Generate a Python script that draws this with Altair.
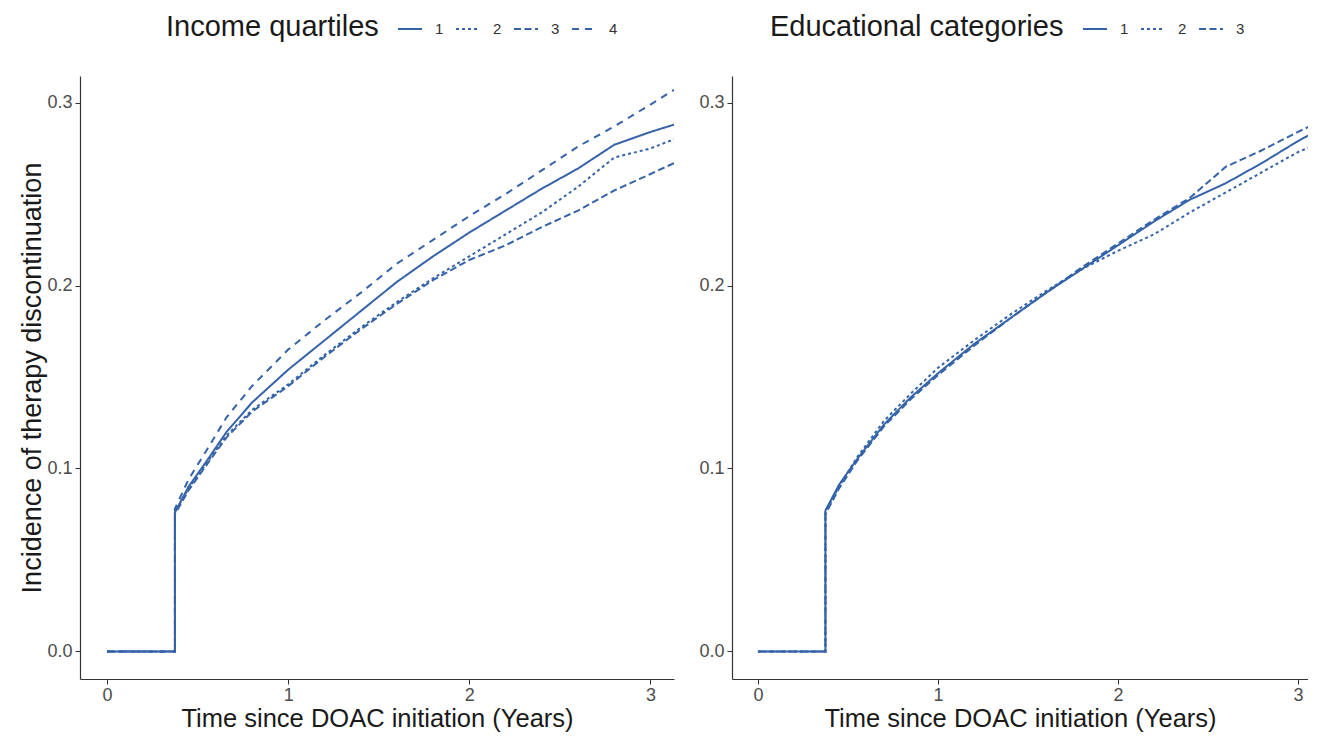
import altair as alt
import pandas as pd

# ---- data ----
step_x = 0.375
left_x = [0.375, 0.45, 0.55, 0.66, 0.8, 1.0, 1.2, 1.4, 1.6, 1.8, 2.0, 2.2, 2.4, 2.6, 2.8, 3.0, 3.13]
income_1 = [0.076, 0.090, 0.104, 0.120, 0.136, 0.154, 0.170, 0.186, 0.202, 0.216, 0.229, 0.241, 0.253, 0.264, 0.277, 0.284, 0.288]
income_2 = [0.076, 0.089, 0.103, 0.118, 0.132, 0.146, 0.162, 0.177, 0.191, 0.204, 0.216, 0.228, 0.240, 0.254, 0.270, 0.275, 0.280]
income_3 = [0.075, 0.088, 0.102, 0.117, 0.131, 0.145, 0.161, 0.176, 0.190, 0.203, 0.214, 0.222, 0.232, 0.241, 0.252, 0.261, 0.267]
income_4 = [0.078, 0.094, 0.110, 0.128, 0.145, 0.165, 0.181, 0.196, 0.212, 0.225, 0.238, 0.250, 0.263, 0.276, 0.287, 0.299, 0.307]

right_x = [0.375, 0.45, 0.55, 0.7, 0.85, 1.0, 1.2, 1.4, 1.6, 1.8, 2.0, 2.2, 2.4, 2.6, 2.8, 3.0, 3.15]
edu_1 = [0.077, 0.091, 0.105, 0.124, 0.139, 0.152, 0.168, 0.182, 0.196, 0.209, 0.222, 0.235, 0.247, 0.256, 0.267, 0.279, 0.287]
edu_2 = [0.076, 0.090, 0.106, 0.126, 0.141, 0.155, 0.170, 0.184, 0.197, 0.209, 0.219, 0.228, 0.240, 0.251, 0.262, 0.273, 0.279]
edu_3 = [0.075, 0.089, 0.104, 0.123, 0.138, 0.151, 0.167, 0.182, 0.196, 0.210, 0.223, 0.236, 0.248, 0.265, 0.274, 0.284, 0.291]

x_ticks = [0, 1, 2, 3]
y_ticks = [0.0, 0.1, 0.2, 0.3]

BLUE = "#3563a8"
FONT = "Liberation Sans"


def build(xs, series):
    rows = []
    for name, ys in series:
        pts = [(0.0, 0.0), (step_x, 0.0)] + list(zip(xs, ys))
        for i, (x, y) in enumerate(pts):
            rows.append({"t": x, "inc": y, "grp": name, "ord": i})
    return pd.DataFrame(rows)


df_left = build(left_x, [("1", income_1), ("2", income_2), ("3", income_3), ("4", income_4)])
df_right = build(right_x, [("1", edu_1), ("2", edu_2), ("3", edu_3)])

dashes = [[1, 0], [3, 3], [7, 3.5], [7, 6]]


def panel(df, title, domain_names, legend_x, show_ytitle, xdom, w):
    leg = alt.Legend(
        title=title, orient="none", legendX=legend_x, legendY=-60,
        direction="horizontal", titleOrient="left", titleLimit=600,
        titleFont=FONT, titleFontSize=29, titleFontWeight="normal", titleColor="#1a1a1a",
        titlePadding=18, titleBaseline="middle",
        labelFont=FONT, labelFontSize=15, labelColor="#333333", labelOffset=12,
        symbolType="stroke", symbolStrokeColor=BLUE, symbolStrokeWidth=2,
        symbolSize=576, columnPadding=8,
    )
    return alt.Chart(df).mark_line(color=BLUE, strokeWidth=2, clip=True).encode(
        x=alt.X("t:Q", scale=alt.Scale(domain=xdom, nice=False, zero=False),
                axis=alt.Axis(values=x_ticks, format="d", labelPadding=2, titlePadding=2,
                              title="Time since DOAC initiation (Years)")),
        y=alt.Y("inc:Q", scale=alt.Scale(domain=[-0.0151, 0.3146], nice=False, zero=False),
                axis=alt.Axis(values=y_ticks, format=".1f", titleFontSize=27, titlePadding=0,
                              title="Incidence of therapy discontinuation" if show_ytitle else None)),
        strokeDash=alt.StrokeDash("grp:N",
                                  scale=alt.Scale(domain=domain_names, range=dashes[:len(domain_names)]),
                                  legend=leg),
        order="ord:Q",
    ).properties(width=w, height=603)


left = panel(df_left, "Income quartiles", ["1", "2", "3", "4"], 86, True, [-0.149, 3.13], 594)
right = panel(df_right, "Educational categories", ["1", "2", "3"], 38, False, [-0.144, 3.056], 576)

chart = alt.hconcat(left, right, spacing=24).resolve_scale(
    strokeDash="independent"
).configure_view(stroke=None).configure_axis(
    grid=False, domainColor="#333333", domainWidth=1.2, tickColor="#333333",
    tickSize=5, labelFont=FONT, labelFontSize=18, labelColor="#4d4d4d", labelPadding=3,
    titleFont=FONT, titleFontSize=25.5, titleFontWeight="normal", titleColor="#1a1a1a",
    titlePadding=4,
).properties(padding={"left": 10, "top": 8, "right": 0, "bottom": 0})

chart.save("out.html", embed_options={"renderer": "svg", "actions": False})
